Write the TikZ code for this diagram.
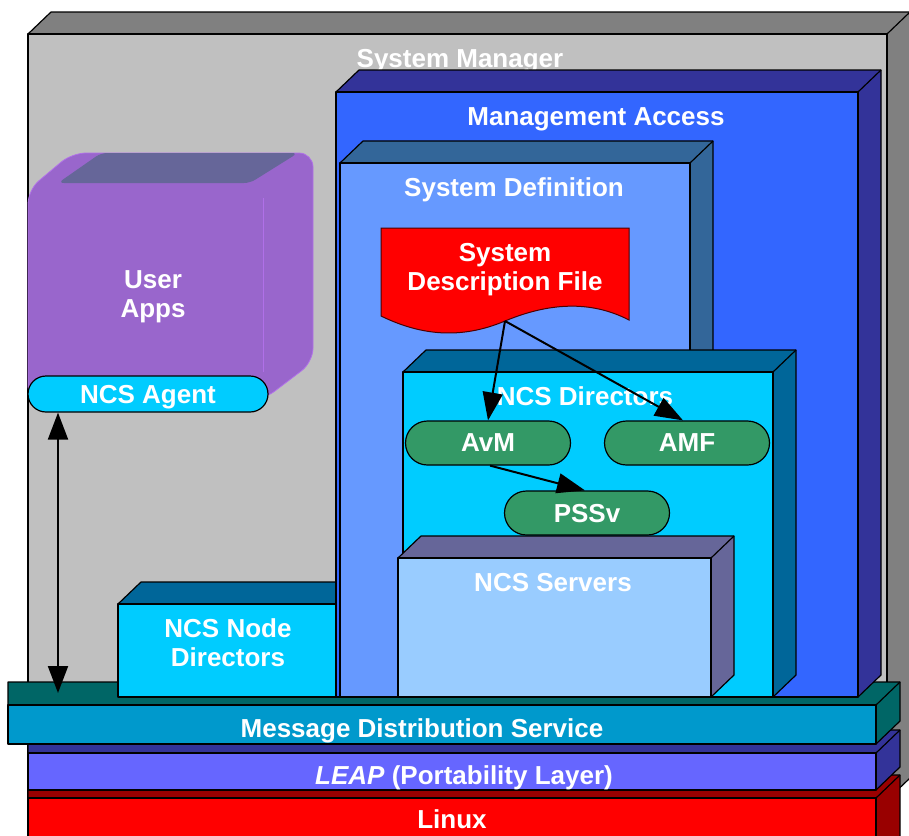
\documentclass[tikz,border=0pt]{standalone}
\usepackage{fontspec}
\setmainfont{Liberation Sans}
\usetikzlibrary{arrows.meta,shapes.misc}

\definecolor{smFront}{HTML}{C0C0C0}
\definecolor{smSide}{HTML}{808080}
\definecolor{maFront}{HTML}{3366FF}
\definecolor{maSide}{HTML}{333399}
\definecolor{sdFront}{HTML}{6699FF}
\definecolor{sdSide}{HTML}{336699}
\definecolor{ndFront}{HTML}{00CCFF}
\definecolor{ndSide}{HTML}{006699}
\definecolor{svFront}{HTML}{99CCFF}
\definecolor{svSide}{HTML}{666699}
\definecolor{appFront}{HTML}{9966CC}
\definecolor{appTop}{HTML}{666699}
\definecolor{appEdge}{HTML}{B070E8}
\definecolor{pillGreen}{HTML}{339966}
\definecolor{mdsFront}{HTML}{0099CC}
\definecolor{mdsSide}{HTML}{006666}
\definecolor{leapFront}{HTML}{6666FF}
\definecolor{leapSide}{HTML}{333399}
\definecolor{linFront}{HTML}{FF0000}
\definecolor{linSide}{HTML}{990000}

% 3-D block: front face (#1,#2)-(#3,#4), front colour #5, top/side colour #6
\newcommand\solidbox[6]{%
  \filldraw[edge,fill=#6] (#1,#2) -- (#1+23,#2-22) -- (#3+23,#2-22)
     -- (#3+23,#4-22) -- (#3,#4) -- cycle;
  \filldraw[edge,fill=#5] (#1,#2) rectangle (#3,#4);
  \draw[edge] (#3,#2) -- (#3+23,#2-22);
}
% flat layer whose left end is cut straight
\newcommand\layerslab[6]{%
  \filldraw[edge,fill=#6] (#1,#2) -- (#1,#2-23) -- (#3+24,#2-23)
     -- (#3+24,#4-23) -- (#3,#4) -- cycle;
  \filldraw[edge,fill=#5] (#1,#2) rectangle (#3,#4);
  \draw[edge] (#3,#2) -- (#3+24,#2-23);
}

\begin{document}
\begin{tikzpicture}[x=1pt,y=-1pt,
  edge/.style={draw=black,line width=1.2pt,line join=round},
  lbl/.style={text=white,font=\bfseries\fontsize{26}{29}\selectfont,align=center,
     inner sep=0pt,text depth=0pt},
  pillnode/.style={rounded rectangle,draw=black,line width=1.2pt,fill=pillGreen,
     minimum width=165pt,minimum height=44pt,inner sep=0pt,lbl},
  flow/.style={draw=black,line width=2pt,-{Triangle[length=28pt,width=20pt]}},
  dflow/.style={draw=black,line width=2pt,
     {Triangle[length=27pt,width=20pt]}-{Triangle[length=27pt,width=20pt]}}
]
\useasboundingbox (0,0) rectangle (909,835);
\clip (0,0) rectangle (909,835);

% System Manager
\solidbox{28}{34}{887}{800}{smFront}{smSide}
\node[lbl] (sm) at (460,58) {System Manager};

% base layers
\layerslab{28}{798}{876}{860}{linFront}{linSide}
\node[lbl] (linux) at (452,819) {Linux};
\layerslab{28}{753}{876}{790}{leapFront}{leapSide}
\node[lbl] (leap) at (464,775) {\textit{LEAP} (Portability Layer)};
\layerslab{8}{705}{876}{744}{mdsFront}{mdsSide}
\node[lbl] (mds) at (422,728) {Message Distribution Service};
\coordinate (mdsTop) at (58,693);

% User Apps block
\fill[appFront,draw=appEdge,line width=0.8pt,rounded corners=14pt]
  (28,400) -- (28,190) -- (72,153) -- (313,153) -- (313,362) -- (263,400) -- cycle;
\fill[appTop,rounded corners=6pt] (58,183) -- (101,153) -- (298,153) -- (250,183) -- cycle;
\draw[appEdge,line width=1pt] (263,198) -- (263,372);
\node[lbl] (apps) at (153,294) {User\\Apps};
\node[rounded rectangle,draw=black,line width=1.2pt,fill=ndFront,minimum width=240pt,
  minimum height=36pt,inner sep=0pt,lbl] (agent) at (148,394) {NCS Agent};

% NCS Node Directors
\solidbox{118}{604}{336}{697}{ndFront}{ndSide}
\node[lbl] (node) at (228,643) {NCS Node\\Directors};

% Management Access
\solidbox{336}{92}{858}{697}{maFront}{maSide}
\node[lbl] (ma) at (596,117) {Management Access};

% System Definition
\solidbox{340}{163}{690}{697}{sdFront}{sdSide}
\node[lbl] (sd) at (514,187) {System Definition};

% System Description File
\filldraw[fill=linFront,draw=black!70!red,line width=1pt]
  (381,228) -- (629,228) -- (629,320)
  .. controls (600,305) and (560,298) .. (505,321)
  .. controls (460,340) and (420,335) .. (381,316) -- cycle;
\node[lbl] (sdf) at (505,267) {System\\Description File};
\coordinate (docpt) at (505,321);

% NCS Directors
\solidbox{403}{372}{773}{697}{ndFront}{ndSide}
\node[lbl] (dirs) at (585,396) {NCS Directors};
\node[pillnode] (avm) at (488,443) {AvM};
\node[pillnode] (amf) at (687,443) {AMF};
\node[pillnode] (pssv) at (587,513) {PSSv};

% NCS Servers
\solidbox{398}{558}{711}{697}{svFront}{svSide}
\node[lbl] (srv) at (553,582) {NCS Servers};

% connectors
\draw[flow] (docpt) -- (avm.north);
\draw[flow] (docpt) -- ([xshift=-4pt]amf.north);
\draw[flow] ([xshift=2pt]avm.south) -- ([xshift=-2pt]pssv.north);
\draw[dflow] (mdsTop |- agent.south) -- (mdsTop);
\end{tikzpicture}
\end{document}
